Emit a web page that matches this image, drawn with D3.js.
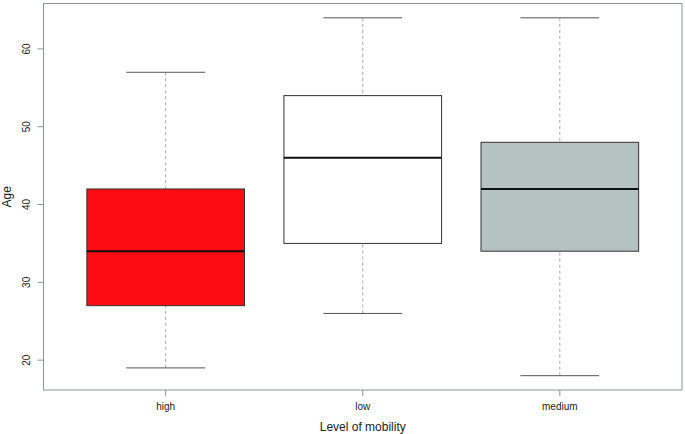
<!DOCTYPE html>
<html>
<head>
<meta charset="utf-8">
<script src="https://cdn.jsdelivr.net/npm/d3@7"></script>
<style>
  body { margin:0; background:#fff; }
  svg { font-family: "Liberation Sans", Arial, sans-serif; }
</style>
</head>
<body>
<svg width="685" height="434"></svg>
<script>
// data
const groups = ["high", "low", "medium"]
const lowWhisker = [19, 26, 18]
const q1 = [27, 35, 34]
const median = [34, 46, 42]
const q3 = [42, 54, 48]
const highWhisker = [57, 64, 64]
const fills = ["#fd0c14", "#ffffff", "#b5c3c0"]
const yTicks = [20, 30, 40, 50, 60]

const svg = d3.select("svg")
// plot frame
const L = 43.5, R = 682, T = 3.5, B = 390

// R style: range extended by 4%
const lo = d3.min(lowWhisker), hi = d3.max(highWhisker)
const pad = (hi - lo) * 0.04
const y = d3.scaleLinear().domain([lo - pad, hi + pad]).range([B, T])
const x = d3.scaleLinear().domain([0.38, 3.62]).range([L, R])
const bw = 0.4  // half box width in x units

const data = groups.map((g, i) => ({g, i, lw: lowWhisker[i], q1: q1[i], md: median[i], q3: q3[i], hw: highWhisker[i], fill: fills[i]}))

const g = svg.append("g")
// whiskers (dashed)
g.selectAll(".wlo").data(data).enter().append("line")
  .attr("x1", d => x(d.i+1)).attr("x2", d => x(d.i+1))
  .attr("y1", d => y(d.lw)).attr("y2", d => y(d.q1))
  .attr("stroke", "#a3a3a3").attr("stroke-dasharray", "3,3")
g.selectAll(".whi").data(data).enter().append("line")
  .attr("x1", d => x(d.i+1)).attr("x2", d => x(d.i+1))
  .attr("y1", d => y(d.hw)).attr("y2", d => y(d.q3))
  .attr("stroke", "#a3a3a3").attr("stroke-dasharray", "3,3")
// caps
;["lw", "hw"].forEach(k => {
  g.selectAll(".cap"+k).data(data).enter().append("line")
    .attr("x1", d => x(d.i+1-bw/2)).attr("x2", d => x(d.i+1+bw/2))
    .attr("y1", d => y(d[k])).attr("y2", d => y(d[k]))
    .attr("stroke", "#555").attr("stroke-width", 1)
})
// boxes
g.selectAll("rect").data(data).enter().append("rect")
  .attr("x", d => x(d.i+1-bw)).attr("width", d => x(d.i+1+bw) - x(d.i+1-bw))
  .attr("y", d => y(d.q3)).attr("height", d => y(d.q1) - y(d.q3))
  .attr("fill", d => d.fill).attr("stroke", "#333").attr("stroke-width", 1)
// medians
g.selectAll(".med").data(data).enter().append("line")
  .attr("x1", d => x(d.i+1-bw)).attr("x2", d => x(d.i+1+bw))
  .attr("y1", d => y(d.md)).attr("y2", d => y(d.md))
  .attr("stroke", "#111").attr("stroke-width", 2)

// frame
svg.append("rect").attr("x", L).attr("y", T).attr("width", R-L).attr("height", B-T)
  .attr("fill", "none").attr("stroke", "#8a9494").attr("stroke-width", 1)

// y axis (R style, rotated labels)
const yAxis = svg.append("g")
yAxis.selectAll("line").data(yTicks).enter().append("line")
  .attr("x1", L-6).attr("x2", L).attr("y1", d => y(d)).attr("y2", d => y(d))
  .attr("stroke", "#8a9494")
yAxis.selectAll("text").data(yTicks).enter().append("text")
  .attr("transform", d => `translate(${L-14},${y(d)}) rotate(-90)`)
  .attr("text-anchor", "middle").attr("font-size", 10).attr("fill", "#222")
  .text(d => d)

// x axis
const xAxis = svg.append("g")
xAxis.selectAll("line").data(data).enter().append("line")
  .attr("x1", d => x(d.i+1)).attr("x2", d => x(d.i+1)).attr("y1", B).attr("y2", B+6)
  .attr("stroke", "#8a9494")
xAxis.selectAll("text").data(data).enter().append("text")
  .attr("x", d => x(d.i+1)).attr("y", B+20)
  .attr("text-anchor", "middle").attr("font-size", 10).attr("fill", "#222")
  .text(d => d.g)

// titles
svg.append("text").attr("x", (L+R)/2).attr("y", 431)
  .attr("text-anchor", "middle").attr("font-size", 12).attr("fill", "#222")
  .text("Level of mobility")
svg.append("text").attr("transform", `translate(11,${(T+B)/2}) rotate(-90)`)
  .attr("text-anchor", "middle").attr("font-size", 12).attr("fill", "#222")
  .text("Age")
</script>
</body>
</html>
